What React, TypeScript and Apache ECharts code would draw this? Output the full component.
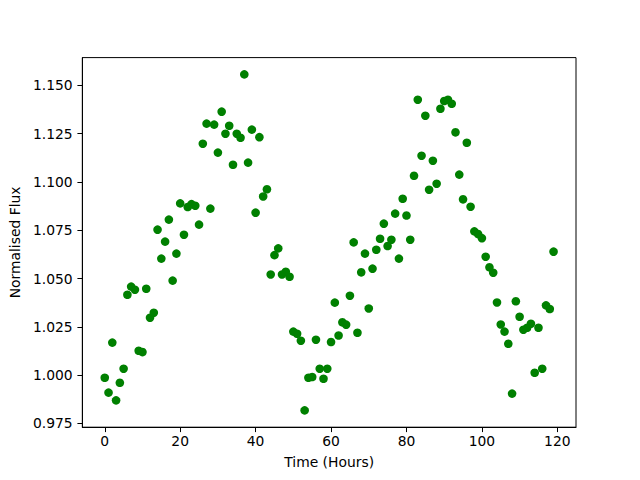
import React, { useEffect, useRef } from "react";
import * as echarts from "echarts";

const hours = [
  0, 1, 2, 3, 4, 5, 6, 7, 8, 9, 10, 11, 12, 13, 14, 15, 16, 17, 18, 19,
  20, 21, 22, 23, 24, 25, 26, 27, 28, 29, 30, 31, 32, 33, 34, 35, 36, 37, 38, 39,
  40, 41, 42, 43, 44, 45, 46, 47, 48, 49, 50, 51, 52, 53, 54, 55, 56, 57, 58, 59,
  60, 61, 62, 63, 64, 65, 66, 67, 68, 69, 70, 71, 72, 73, 74, 75, 76, 77, 78, 79,
  80, 81, 82, 83, 84, 85, 86, 87, 88, 89, 90, 91, 92, 93, 94, 95, 96, 97, 98, 99,
  100, 101, 102, 103, 104, 105, 106, 107, 108, 109, 110, 111, 112, 113, 114, 115, 116, 117, 118, 119,
];

const flux = [
  0.9986, 0.9909, 1.0168, 0.9869, 0.996, 1.0033, 1.0416, 1.0458, 1.0442, 1.0126,
  1.0119, 1.0447, 1.0297, 1.0323, 1.0753, 1.0603, 1.0691, 1.0805, 1.0489, 1.0629,
  1.0889, 1.0727, 1.087, 1.0885, 1.0877, 1.0779, 1.1198, 1.1302, 1.0862, 1.1297,
  1.1152, 1.1364, 1.125, 1.1291, 1.1089, 1.125, 1.1229, 1.1557, 1.11, 1.1271,
  1.0841, 1.1232, 1.0925, 1.0962, 1.0521, 1.0621, 1.0656, 1.0521, 1.0535, 1.0509,
  1.0225, 1.0214, 1.0178, 0.9817, 0.9986, 0.999, 1.0183, 1.0033, 0.9981, 1.0033,
  1.0171, 1.0375, 1.0205, 1.0273, 1.0261, 1.0411, 1.0687, 1.0219, 1.0532, 1.0629,
  1.0345, 1.0551, 1.0649, 1.0706, 1.0784, 1.0668, 1.0701, 1.0836, 1.0603, 1.0913,
  1.0826, 1.0701, 1.1032, 1.1426, 1.1136, 1.1343, 1.096, 1.111, 1.0991, 1.1379,
  1.1419, 1.1426, 1.1405, 1.1257, 1.1038, 1.091, 1.1203, 1.0872, 1.0744, 1.073,
  1.0709, 1.0613, 1.0558, 1.053, 1.0376, 1.0262, 1.0225, 1.0162, 0.9904, 1.0382,
  1.0302, 1.0235, 1.0245, 1.0266, 1.0012, 1.0245, 1.0033, 1.0361, 1.0342, 1.0639,
];

const xTicks = [0, 20, 40, 60, 80, 100, 120];
const yTicks = [0.975, 1.0, 1.025, 1.05, 1.075, 1.1, 1.125, 1.15];

const FONT = "DejaVu Sans";
const FS = 13.89;

export default function App() {
  const ref = useRef<HTMLDivElement>(null);
  useEffect(() => {
    if (!ref.current) return;
    const chart = echarts.init(ref.current, null, { renderer: "svg" });
    const data = hours.map((h, i) => [h, flux[i]]);
    const xmin = Math.min(...hours), xmax = Math.max(...hours);
    const ymin = Math.min(...flux), ymax = Math.max(...flux);
    const xm = (xmax - xmin) * 0.05, ym = (ymax - ymin) * 0.05;
    chart.setOption({
      animation: false,
      backgroundColor: "#ffffff",
      grid: {
        left: 80, right: 64, top: 57.6, bottom: 52.8,
        show: true, borderColor: "#000", borderWidth: 1, backgroundColor: "transparent",
      },
      xAxis: {
        type: "value",
        min: xmin - xm,
        max: xmax + xm,
        name: "Time (Hours)",
        nameLocation: "middle",
        nameGap: 28,
        nameTextStyle: { fontFamily: FONT, fontSize: FS, color: "#000" },
        axisLine: { show: true, onZero: false, lineStyle: { color: "#000", width: 1 } },
        axisTick: { show: true, length: 4.9, lineStyle: { color: "#000", width: 1 }, customValues: xTicks },
        axisLabel: {
          show: true, margin: 7, fontFamily: FONT, fontSize: FS, color: "#000",
          customValues: xTicks, formatter: (v: number) => String(v),
        },
        splitLine: { show: false },
      },
      yAxis: {
        type: "value",
        min: ymin - ym,
        max: ymax + ym,
        name: "Normalised Flux",
        nameLocation: "middle",
        nameGap: 54,
        nameTextStyle: { fontFamily: FONT, fontSize: FS, color: "#000" },
        axisLine: { show: true, onZero: false, lineStyle: { color: "#000", width: 1 } },
        axisTick: { show: true, length: 4.9, lineStyle: { color: "#000", width: 1 }, customValues: yTicks },
        axisLabel: {
          show: true, margin: 9.7, fontFamily: FONT, fontSize: FS, color: "#000",
          customValues: yTicks, formatter: (v: number) => v.toFixed(3),
        },
        splitLine: { show: false },
      },
      series: [
        {
          type: "scatter",
          data,
          symbol: "circle",
          symbolSize: 8.6,
          itemStyle: { color: "#008000", opacity: 1 },
        },
      ],
    });
    return () => chart.dispose();
  }, []);
  return (
    <div
      ref={ref}
      style={{ position: "fixed", left: 0, top: 0, width: 640, height: 480 }}
    />
  );
}
